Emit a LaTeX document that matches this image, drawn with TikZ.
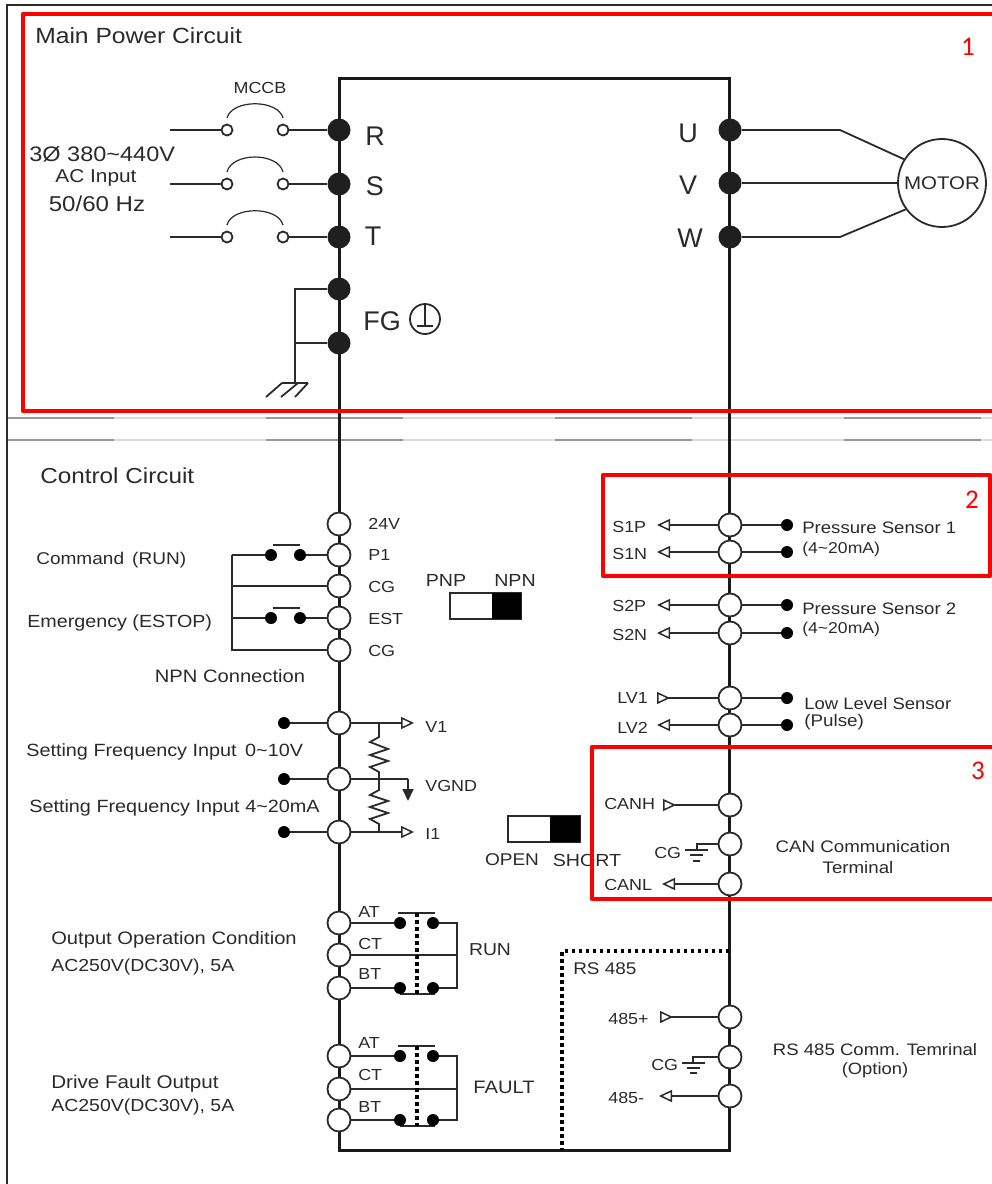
\documentclass[tikz,border=0pt]{standalone}
\usepackage{fontspec}
\setmainfont[FakeStretch=1.12]{Liberation Sans}
\newfontfamily\numfont{Carlito}
\newfontfamily\pinfont{Liberation Sans}
\usetikzlibrary{arrows.meta,backgrounds}
\definecolor{inkgray}{HTML}{2A2A2A}
\definecolor{sepgray}{HTML}{989898}
\definecolor{seplight}{HTML}{DADADA}
\newcommand{\fsize}[1]{\fontsize{#1}{#1}\selectfont}

\begin{document}
\begin{tikzpicture}[x=1pt,y=-1pt,>={Triangle[open,length=13pt,width=12pt,line width=1.5pt]},
                    semithick]
  \tikzstyle{every node}=[text=inkgray,inner sep=0pt]
  \tikzstyle{blackterm}=[circle,fill=black!88,minimum size=23pt]
  \tikzstyle{openterm}=[circle,draw=inkgray,line width=1.8pt,fill=white,minimum size=23pt]
  \tikzstyle{smallterm}=[circle,draw=inkgray,line width=1.8pt,fill=white,minimum size=11pt]
  \tikzstyle{contact}=[circle,fill=black,minimum size=12pt]
  \tikzstyle{termtxt}=[font=\fsize{16},anchor=west,yshift=-1pt]
  \tikzstyle{sidetxt}=[font=\fsize{18},anchor=west,yshift=-2pt]
  \tikzstyle{pintxt}=[font=\pinfont\fsize{27}]
  \tikzstyle{wire}=[draw=inkgray,line width=1.8pt]
  \tikzstyle{bus}=[draw=black!90,line width=3pt]
  \tikzstyle{redbox}=[draw=red,line width=4.5pt,line join=round]
  \tikzstyle{redno}=[text=red,font=\numfont\fsize{27}]
  \tikzstyle{dotline}=[draw=black,line width=3.5pt,dash pattern=on 3.5pt off 3.5pt]
  \tikzstyle{backtip}=[-{Triangle[open,length=13pt,width=12pt,line width=1.5pt,reversed]}]

  \useasboundingbox (0,0) rectangle (992,1184);

  % power side
  \node[blackterm] (r) at (339,130) {};
  \node[blackterm] (s) at (339,184) {};
  \node[blackterm] (t) at (339,237) {};
  \node[blackterm] (fg1) at (339,289) {};
  \node[blackterm] (fg2) at (339,343) {};
  \node[blackterm] (u) at (730,130) {};
  \node[blackterm] (v) at (730,183) {};
  \node[blackterm] (w) at (730,237) {};
  \node[smallterm] (rin) at (227,130) {};
  \node[smallterm] (sin) at (227,184) {};
  \node[smallterm] (tin) at (227,237) {};
  \node[smallterm] (rout) at (283,130) {};
  \node[smallterm] (sout) at (283,184) {};
  \node[smallterm] (tout) at (283,237) {};
  \coordinate (rfree) at (170,130);
  \coordinate (sfree) at (170,184);
  \coordinate (tfree) at (170,237);
  \node[circle,draw=inkgray,line width=1.8pt,fill=white,minimum size=88pt,font=\fsize{18.3}] (motor) at (942,183) {MOTOR};

  \node[pintxt] (rtxt) at (375,136) {R};
  \node[pintxt] (stxt) at (375,186) {S};
  \node[pintxt] (ttxt) at (373,236) {T};
  \node[pintxt] (utxt) at (688,133) {U};
  \node[pintxt] (vtxt) at (688,185) {V};
  \node[pintxt] (wtxt) at (690,238) {W};
  \node[pintxt] (fgtxt) at (382,321) {FG};
  \node[circle,draw=inkgray,line width=1.8pt,minimum size=30pt] (earth) at (425,319) {};
  \node[font=\fsize{22},anchor=west] (maintxt) at (35,36) {Main Power Circuit};
  \node[font=\fsize{16}] (mccb) at (260,88) {MCCB};
  \node[font=\fsize{21},anchor=west] (acv) at (29,154) {3Ø 380\textasciitilde440V};
  \node[font=\fsize{18.6}] (acin) at (96,178) {AC Input};
  \node[font=\fsize{21.5}] (achz) at (97,204) {50/60 Hz};

  % control side, left
  \node[font=\fsize{21.7},anchor=west] (ctrltxt) at (40,476) {Control Circuit};
  \node[openterm] (v24) at (339,524) {};
  \node[openterm] (p1) at (339,555) {};
  \node[openterm] (cg1) at (339,586) {};
  \node[openterm] (est) at (339,618) {};
  \node[openterm] (cg2) at (339,650) {};
  \node[termtxt] at (368,523) {24V};
  \node[termtxt] at (368,554) {P1};
  \node[termtxt] at (368,586) {CG};
  \node[termtxt] at (368,618) {EST};
  \node[termtxt] at (368,650) {CG};
  \node[contact] (p1a) at (271,555) {};
  \node[contact] (p1b) at (300,555) {};
  \node[contact] (esta) at (271,618) {};
  \node[contact] (estb) at (300,618) {};
  \coordinate (bus1) at (232,555);
  \coordinate (bus2) at (232,586);
  \coordinate (bus3) at (232,618);
  \coordinate (bus4) at (232,650);
  \node[sidetxt,font=\fsize{17}] (cmd) at (36,558) {Command\, (RUN)};
  \node[sidetxt,font=\fsize{17.6}] (emg) at (27,621) {Emergency (ESTOP)};
  \node[font=\fsize{18}] (npnc) at (230,676) {NPN Connection};
  \node[font=\fsize{17.5}] (pnp) at (446,580) {PNP};
  \node[font=\fsize{17.5}] (npn) at (515,580) {NPN};
  \node[font=\fsize{17}] (open) at (512,860) {OPEN};
  \node[font=\fsize{17.5}] (short) at (587,860) {SHORT};

  \node[openterm] (v1) at (339,723) {};
  \node[openterm] (vg) at (339,779) {};
  \node[openterm] (i1) at (339,832) {};
  \node[contact] (v1in) at (284,723) {};
  \node[contact] (vgin) at (284,779) {};
  \node[contact] (i1in) at (284,832) {};
  \coordinate (v1out) at (414,723);
  \coordinate (vgturn) at (408,779);
  \coordinate (vgout) at (408,801);
  \coordinate (i1out) at (414,832);
  \node[termtxt] at (425,726) {V1};
  \node[termtxt] at (425,785) {VGND};
  \node[termtxt] at (425,833) {I1};
  \node[sidetxt,font=\fsize{17.7}] at (26,750) {Setting Frequency Input\, 0\textasciitilde10V};
  \node[sidetxt,font=\fsize{17.7}] at (29,806) {Setting Frequency Input 4\textasciitilde20mA};

  \node[openterm] (at1) at (339,923) {};
  \node[openterm] (ct1) at (339,955) {};
  \node[openterm] (bt1) at (339,988) {};
  \node[openterm] (at2) at (339,1056) {};
  \node[openterm] (ct2) at (339,1089) {};
  \node[openterm] (bt2) at (339,1120) {};
  \node[termtxt] at (358,911) {AT};
  \node[termtxt] at (358,943) {CT};
  \node[termtxt] at (358,973) {BT};
  \node[termtxt] at (358,1042) {AT};
  \node[termtxt] at (358,1074) {CT};
  \node[termtxt] at (358,1106) {BT};
  \node[contact] (at1a) at (400,923) {};
  \node[contact] (at1b) at (433,923) {};
  \node[contact] (bt1a) at (400,988) {};
  \node[contact] (bt1b) at (433,988) {};
  \node[contact] (at2a) at (400,1056) {};
  \node[contact] (at2b) at (433,1056) {};
  \node[contact] (bt2a) at (400,1120) {};
  \node[contact] (bt2b) at (433,1120) {};
  \coordinate (run1) at (457,923);
  \coordinate (run2) at (457,955);
  \coordinate (run3) at (457,988);
  \coordinate (flt1) at (457,1056);
  \coordinate (flt2) at (457,1089);
  \coordinate (flt3) at (457,1120);
  \node[font=\fsize{17.3}] (runtxt) at (490,950) {RUN};
  \node[font=\fsize{18}] (flttxt) at (504,1087) {FAULT};
  \node[sidetxt] at (51,938) {Output Operation Condition};
  \node[sidetxt,font=\fsize{17.4}] at (51,965) {AC250V(DC30V), 5A};
  \node[sidetxt,font=\fsize{18.4}] at (51,1082) {Drive Fault Output};
  \node[sidetxt,font=\fsize{17.4}] at (51,1105) {AC250V(DC30V), 5A};

  % control side, right
  \node[openterm] (s1p) at (730,525) {};
  \node[openterm] (s1n) at (730,552) {};
  \node[openterm] (s2p) at (730,605) {};
  \node[openterm] (s2n) at (730,633) {};
  \node[openterm] (lv1) at (730,698) {};
  \node[openterm] (lv2) at (730,725) {};
  \node[openterm] (canh) at (730,805) {};
  \node[openterm] (cancg) at (730,844) {};
  \node[openterm] (canl) at (730,884) {};
  \node[openterm] (rsp) at (730,1017) {};
  \node[openterm] (rscg) at (730,1057) {};
  \node[openterm] (rsn) at (730,1096) {};
  \coordinate (s1pout) at (657,525);
  \coordinate (s1nout) at (657,552);
  \coordinate (s2pout) at (657,605);
  \coordinate (s2nout) at (657,633);
  \coordinate (lv1out) at (657,698);
  \coordinate (lv2out) at (657,725);
  \coordinate (canhout) at (663,805);
  \coordinate (canlout) at (662,884);
  \coordinate (rspout) at (660,1017);
  \coordinate (rsnout) at (659,1096);
  \node[contact] (s1pin) at (787,525) {};
  \node[contact] (s1nin) at (787,552) {};
  \node[contact] (s2pin) at (787,605) {};
  \node[contact] (s2nin) at (787,633) {};
  \node[contact] (lv1in) at (787,698) {};
  \node[contact] (lv2in) at (787,725) {};
  \node[termtxt] at (612,526) {S1P};
  \node[termtxt] at (612,553) {S1N};
  \node[termtxt] at (612,605) {S2P};
  \node[termtxt] at (612,634) {S2N};
  \node[termtxt] at (617,697) {LV1};
  \node[termtxt] at (617,727) {LV2};
  \node[termtxt] at (604,803) {CANH};
  \node[termtxt] at (654,852) {CG};
  \node[termtxt] at (604,884) {CANL};
  \node[termtxt,font=\fsize{16.9}] at (573,968) {RS 485};
  \node[termtxt] at (608,1018) {485+};
  \node[termtxt] at (651,1064) {CG};
  \node[termtxt] at (608,1097) {485-};
  \node[sidetxt,font=\fsize{16.6}] at (802,526) {Pressure Sensor 1};
  \node[sidetxt,font=\fsize{15.7}] at (802,547) {(4\textasciitilde20mA)};
  \node[sidetxt,font=\fsize{16.6}] at (802,607) {Pressure Sensor 2};
  \node[sidetxt,font=\fsize{15.7}] at (802,627) {(4\textasciitilde20mA)};
  \node[sidetxt,font=\fsize{16.5}] at (804,702) {Low Level Sensor};
  \node[sidetxt,font=\fsize{16.8}] at (804,720) {(Pulse)};
  \node[font=\fsize{16.7}] (cantxt) at (863,847) {CAN Communication};
  \node[font=\fsize{16.7}] (canterm) at (858,868) {Terminal};
  \node[font=\fsize{16.6}] (rstxt) at (875,1050) {RS 485 Comm. Temrinal};
  \node[font=\fsize{16.4}] (rsopt) at (875,1070) {(Option)};

  % wires go under the terminals
  \begin{scope}[on background layer]
    \draw[draw=seplight,line width=2.5pt] (8,418) -- (992,418);
    \draw[draw=seplight,line width=2.5pt] (8,440) -- (992,440);
    \draw[draw=sepgray,line width=2.5pt,dash pattern=on 137pt off 152pt,dash phase=31pt] (8,418) -- (992,418);
    \draw[draw=sepgray,line width=2.5pt,dash pattern=on 137pt off 152pt,dash phase=31pt] (8,440) -- (992,440);
    \draw[draw=inkgray,line width=2pt] (992,5) -- (7,5) -- (7,1184);

    \draw[bus] (339,1150) -- (729,1150) -- (729,78) -- (339,78) -- cycle;
    \path[wire] (rfree) edge (rin) (rout) edge (r)
                (sfree) edge (sin) (sout) edge (s)
                (tfree) edge (tin) (tout) edge (t);
    \draw[wire,line width=1.2pt] (227,118) .. controls (232,99) and (278,99) .. (283,118);
    \draw[wire,line width=1.2pt] (227,172) .. controls (232,152) and (278,152) .. (283,172);
    \draw[wire,line width=1.2pt] (227,225) .. controls (232,206) and (278,206) .. (283,225);
    \draw[wire] (u) -- (840,130) -- (motor.148);
    \draw[wire] (v) -- (motor);
    \draw[wire] (w) -- (840,237) -- (motor.216);
    \draw[wire] (fg1) -- (295,289) -- (295,383);
    \draw[wire] (fg2) -- (295,343);
    \draw[wire] (282,383) -- (308,383);
    \draw[wire] (282,383) -- (266,397);
    \draw[wire] (298,383) -- (281,397);
    \draw[wire] (308,383) -- (295,397);
    \draw[wire] (earth.north) -- (425,326);
    \draw[wire] (417,326) -- (433,326);

    \draw[wire] (bus1) -- (p1a);
    \draw[wire] (p1b) -- (p1);
    \draw[wire] (bus1) -- (bus4) -- (cg2);
    \draw[wire] (bus2) -- (cg1);
    \draw[wire] (bus3) -- (esta);
    \draw[wire] (estb) -- (est);
    \draw[wire] (273,545) -- (300,545);
    \draw[wire] (273,608) -- (300,608);
    \draw[wire,fill=white] (450,593) rectangle (521,619);
    \fill[black] (492,593) rectangle (521,619);
    \draw[wire,fill=white] (508,816) rectangle (580,842);
    \fill[black] (550,816) rectangle (580,842);

    \draw[wire] (v1in) -- (v1);
    \draw[wire] (vgin) -- (vg);
    \draw[wire] (i1in) -- (i1);
    \draw[wire,->] (v1) -- (v1out);
    \draw[wire,->] (i1) -- (i1out);
    \draw[wire] (vg) -- (vgturn);
    \draw[wire,-{Triangle[length=12pt,width=11pt]}] (vgturn) -- (vgout);
    \draw[wire] (379,723) -- (379,737) -- (370,742) -- (388,749) -- (370,755) -- (388,761) -- (370,767) -- (379,772) -- (379,790)
                -- (370,795) -- (388,801) -- (370,807) -- (388,813) -- (370,819) -- (379,824) -- (379,832);

    \draw[wire] (at1) -- (at1a) (at1b) -- (run1) -- (run3) -- (bt1b) (bt1a) -- (bt1);
    \draw[wire] (ct1) -- (run2);
    \draw[wire] (398,913) -- (435,913);
    \draw[wire] (400,994) -- (435,994);
    \draw[wire] (at2) -- (at2a) (at2b) -- (flt1) -- (flt3) -- (bt2b) (bt2a) -- (bt2);
    \draw[wire] (ct2) -- (flt2);
    \draw[wire] (398,1046) -- (435,1046);
    \draw[wire] (400,1126) -- (435,1126);
    \draw[dotline] (417,913) -- (417,994);
    \draw[dotline] (417,1046) -- (417,1126);

    \draw[wire,->] (s1p) -- (s1pout);
    \draw[wire,->] (s1n) -- (s1nout);
    \draw[wire,->] (s2p) -- (s2pout);
    \draw[wire,->] (s2n) -- (s2nout);
    \draw[wire,backtip] (lv1) -- (lv1out);
    \draw[wire,->] (lv2) -- (lv2out);
    \draw[wire] (s1p) -- (s1pin);
    \draw[wire] (s1n) -- (s1nin);
    \draw[wire] (s2p) -- (s2pin);
    \draw[wire] (s2n) -- (s2nin);
    \draw[wire] (lv1) -- (lv1in);
    \draw[wire] (lv2) -- (lv2in);
    \draw[wire,backtip] (canh) -- (canhout);
    \draw[wire,->] (canl) -- (canlout);
    \draw[wire] (cancg) -- (697,844) -- (697,850);
    \draw[wire] (685,850) -- (708,850);
    \draw[wire] (690,855) -- (703,855);
    \draw[wire] (693,861) -- (700,861);
    \draw[wire,backtip] (rsp) -- (rspout);
    \draw[wire,->] (rsn) -- (rsnout);
    \draw[wire] (rscg) -- (693,1057) -- (693,1063);
    \draw[wire] (682,1063) -- (705,1063);
    \draw[wire] (687,1068) -- (700,1068);
    \draw[wire] (690,1073) -- (697,1073);
    \draw[dotline] (729,951) -- (562,951) -- (562,1150);
  \end{scope}

  % red marks on top
  \draw[redbox] (992,14) -- (23,14) -- (23,411) -- (992,411);
  \draw[redbox] (603,475) rectangle (990,576);
  \draw[redbox] (992,747) -- (592,747) -- (592,899) -- (992,899);
  \node[redno] (no1) at (968,47) {1};
  \node[redno] (no2) at (972,500) {2};
  \node[redno] (no3) at (978,771) {3};
\end{tikzpicture}
\end{document}
